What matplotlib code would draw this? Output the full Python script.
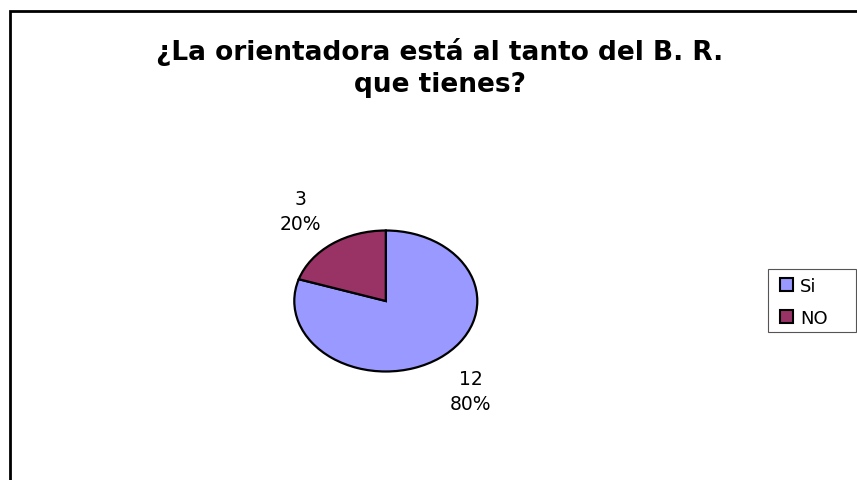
import matplotlib
matplotlib.use("Agg")
import matplotlib.pyplot as plt
from matplotlib.patches import Patch, Rectangle

categories = ["Si", "NO"]
values = [12, 3]
colors = ["#9999FF", "#993366"]
title = "¿La orientadora está al tanto del B. R.\nque tienes?"

W, H = 857, 481
fig = plt.figure(figsize=(W / 100, H / 100), dpi=100)
fig.patch.set_facecolor("white")

# pie axes (elliptical pie, as in reference)
cx, cy, rx, ry = 385.8, 302.0, 91.5, 70.5
ax = fig.add_axes([(cx - rx) / W, (H - cy - ry) / H, 2 * rx / W, 2 * ry / H])
total = sum(values)
labels = [f"{v}\n{round(100 * v / total)}%" for v in values]
wedges, texts = ax.pie(values, colors=colors, startangle=90, counterclock=False,
                       labels=labels, labeldistance=1.58,
                       wedgeprops=dict(edgecolor="black", linewidth=1.6),
                       textprops=dict(fontsize=13.5, family="DejaVu Sans",
                                      linespacing=1.35))
for t in texts:
    t.set_ha("center")
    t.set_va("center")
ax.set_aspect("auto")
ax.set_xlim(-1.0, 1.0)
ax.set_ylim(-1.0, 1.0)
for w in wedges:
    w.set_clip_on(False)

fig.text(440 / W, 1 - 68 / H, title, ha="center", va="center",
         fontsize=19, fontweight="bold", family="DejaVu Sans",
         linespacing=1.35)

handles = [Patch(facecolor=c, edgecolor="black", linewidth=1.5) for c in colors]
leg = fig.legend(handles, categories, loc="center left",
                 bbox_to_anchor=(780 / W, 1 - 303 / H),
                 prop=dict(size=13, family="DejaVu Sans"), frameon=False,
                 handlelength=0.72, handleheight=0.72, handletextpad=0.4,
                 labelspacing=0.78, borderpad=0, borderaxespad=0)
fig.add_artist(Rectangle((768 / W, 1 - 333 / H), 88 / W, 63 / H,
                         transform=fig.transFigure, fill=False,
                         edgecolor="#555555", linewidth=0.8))

# outer chart frame (cut off at right and bottom)
fig.add_artist(Rectangle((10 / W, -0.2), 2.0, 1.2 - 12 / H,
                         transform=fig.transFigure, fill=False,
                         edgecolor="black", linewidth=2.0, clip_on=False))

fig.savefig("out.png", dpi=100, facecolor="white")
